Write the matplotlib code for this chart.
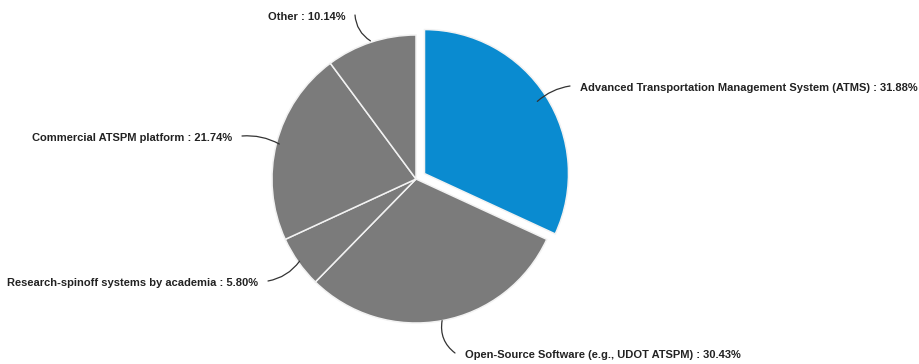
import numpy as np
import matplotlib
matplotlib.use("Agg")
import matplotlib.pyplot as plt

categories = [
    "Advanced Transportation Management System (ATMS)",
    "Open-Source Software (e.g., UDOT ATSPM)",
    "Research-spinoff systems by academia",
    "Commercial ATSPM platform",
    "Other",
]
shares = [31.88, 30.43, 5.80, 21.74, 10.14]
colors = ["#0a8bd0", "#7b7b7b", "#7b7b7b", "#7b7b7b", "#7b7b7b"]
explode_frac = [0.07, 0, 0, 0, 0]

W, H = 919, 364
fig = plt.figure(figsize=(W / 100, H / 100), dpi=100)
ax = fig.add_axes([0, 0, 1, 1])

cx, cy, R = 416, H - 179, 144
explode = [f * R for f in explode_frac]
wedges, _ = ax.pie(shares, colors=colors, explode=explode, startangle=90,
                   counterclock=False, radius=R, center=(cx, cy),
                   wedgeprops=dict(edgecolor="#f2f2f2", linewidth=1.1))
ax.set_xlim(0, W)
ax.set_ylim(0, H)
ax.set_aspect("equal")
ax.axis("off")

# label placement: (text x, text y, alignment, leader radius factor, curvature)
label_pos = [
    (580, H - 88, "left", 0.93, 0.15),
    (465, H - 355, "left", 1.0, -0.3),
    (258, H - 283, "right", 0.99, 0.2),
    (232, H - 138, "right", 0.98, -0.15),
    (345, H - 17, "right", 1.01, 0.25),
]

total = sum(shares)
start = 90.0
for i, (name, val) in enumerate(zip(categories, shares)):
    span = 360.0 * val / total
    mid = np.deg2rad(start - span / 2)
    start -= span
    tx, ty, ha, rf, rad = label_pos[i]
    ox = explode[i] * np.cos(mid)
    oy = explode[i] * np.sin(mid)
    px = cx + ox + rf * R * np.cos(mid)
    py = cy + oy + rf * R * np.sin(mid)
    ex = tx - 10 if ha == "left" else tx + 10
    ax.annotate("", xy=(px, py), xytext=(ex, ty + 2),
                arrowprops=dict(arrowstyle="-", color="#333333", lw=0.9,
                                shrinkA=0, shrinkB=0,
                                connectionstyle=f"arc3,rad={rad}"))
    ax.text(tx, ty, f"{name} : {val:.2f}%", ha=ha, va="center",
            fontsize=8.0, fontweight="bold", family="Liberation Sans",
            color="#222222")

fig.savefig("out.png", dpi=100, facecolor="white")
